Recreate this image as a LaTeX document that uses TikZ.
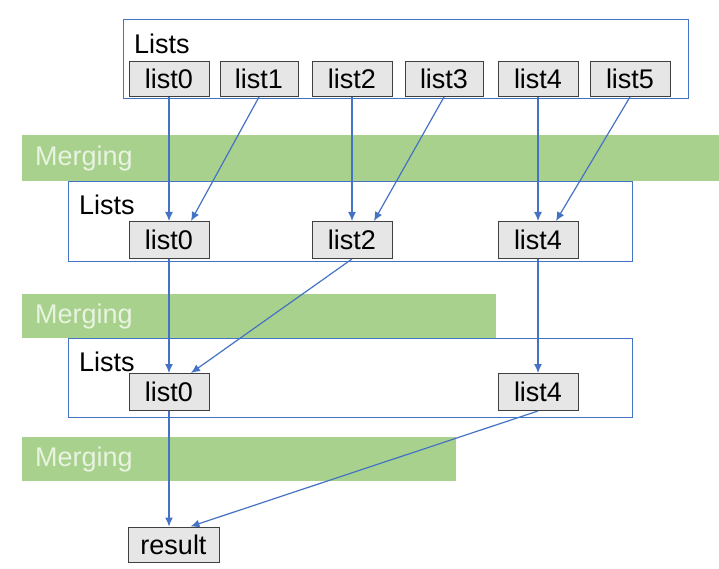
\documentclass[tikz,border=0pt]{standalone}
\usepackage{fontspec}
\setmainfont{Liberation Sans}
\usetikzlibrary{positioning, arrows.meta}

\definecolor{linkblue}{HTML}{4472C4}
\definecolor{bandgreen}{HTML}{A9D18E}
\definecolor{bandtext}{HTML}{E8F3E0}
\definecolor{boxgray}{HTML}{E7E6E6}

\tikzset{
  listbox/.style={draw=black!75, fill=boxgray, line width=1pt, minimum width=80pt, minimum height=35pt, inner sep=0pt, font=\fontsize{27}{31}\selectfont},
  group/.style={draw=linkblue, fill=white, line width=0.9pt, anchor=north west, inner sep=0pt},
  grouplabel/.style={anchor=west, inner sep=0pt, font=\fontsize{27}{31}\selectfont},
  band/.style={fill=bandgreen},
  bandlabel/.style={anchor=west, inner sep=0pt, text=bandtext, font=\fontsize{27}{31}\selectfont},
  link/.style={draw=linkblue, line width=1.2pt, -{Latex[length=9pt, width=8pt]}},
}

\begin{document}
\begin{tikzpicture}[x=1pt, y=-1pt]
    \useasboundingbox (0,0) rectangle (719,569);

    % merging bands
    \fill[band] (22,135) rectangle (719,181);
    \fill[band] (22,294) rectangle (496,338);
    \fill[band] (22,437) rectangle (456,481);
    \node[bandlabel] (merge1) at (35,159) {Merging};
    \node[bandlabel] (merge2) at (35,317) {Merging};
    \node[bandlabel] (merge3) at (35,460) {Merging};

    % list containers
    \node[group, minimum width=565pt, minimum height=79pt] (lists1) at (123,19) {};
    \node[group, minimum width=564pt, minimum height=80pt] (lists2) at (68,181) {};
    \node[group, minimum width=564pt, minimum height=79pt] (lists3) at (68,338) {};
    \node[grouplabel] (title1) at (134,44) {Lists};
    \node[grouplabel] (title2) at (79,205) {Lists};
    \node[grouplabel] (title3) at (79,362) {Lists};

    % first level
    \node[listbox] (a0) at (169,79) {list0};
    \node[listbox, minimum width=78pt] (a1) at (259,79) {list1};
    \node[listbox] (a2) at (352,79) {list2};
    \node[listbox, minimum width=78pt] (a3) at (444,79) {list3};
    \node[listbox] (a4) at (538,79) {list4};
    \node[listbox] (a5) at (630,79) {list5};

    % second level
    \node[listbox, minimum height=37pt] (b0) at (169,240) {list0};
    \node[listbox, minimum height=37pt] (b2) at (352,240) {list2};
    \node[listbox, minimum height=37pt] (b4) at (538,240) {list4};

    % third level
    \node[listbox, minimum height=37pt] (c0) at (169,392) {list0};
    \node[listbox, minimum height=37pt] (c4) at (538,392) {list4};

    \node[listbox, minimum width=91pt] (res) at (173.5,544.5) {result};

    \draw[link] (a0) -- (b0);
    \draw[link] (a1.south) -- ([xshift=22pt]b0.north);
    \draw[link] (a2) -- (b2);
    \draw[link] (a3.south) -- ([xshift=22pt]b2.north);
    \draw[link] (a4) -- (b4);
    \draw[link] (a5.south) -- ([xshift=18pt]b4.north);

    \draw[link] (b0) -- (c0);
    \draw[link] (b2.south) -- ([xshift=22pt]c0.north);
    \draw[link] (b4) -- (c4);

    \draw[link] (c0.south) -- ([xshift=-4.5pt]res.north);
    \draw[link] (c4.south) -- ([xshift=17pt]res.north);
\end{tikzpicture}
\end{document}
